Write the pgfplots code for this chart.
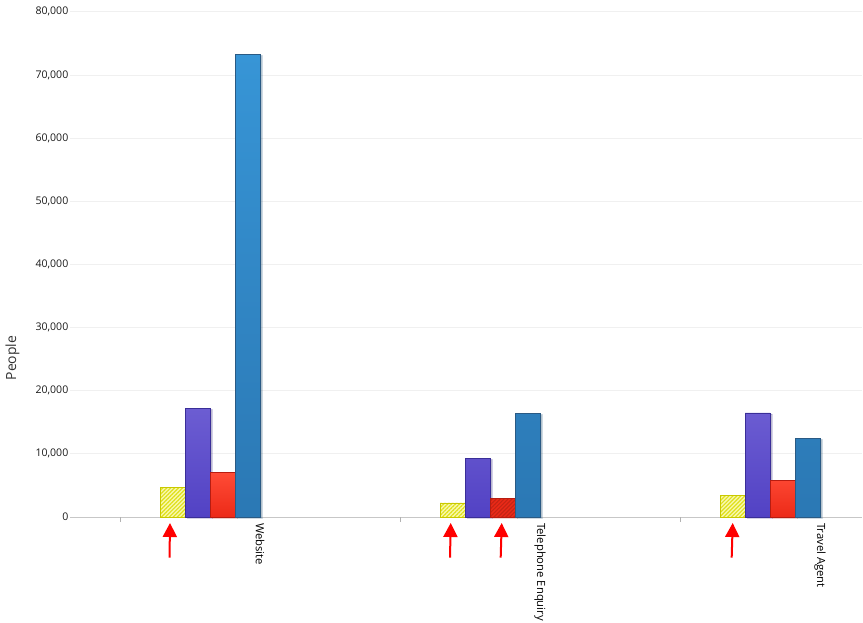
\documentclass[border=0pt]{standalone}
\usepackage{pgfplots}
\pgfplotsset{compat=1.18}
\usetikzlibrary{patterns.meta, arrows.meta, shadows}
\usepackage{fontspec}
\setmainfont{Open Sans}
\definecolor{ylwbg}{HTML}{F8F8B0}
\definecolor{ylwline}{HTML}{E0E01A}
\definecolor{ylwborder}{HTML}{C8C800}
\definecolor{purtop}{HTML}{6C5DD2}
\definecolor{purbot}{HTML}{5242C4}
\definecolor{purborder}{HTML}{3A2E98}
\definecolor{redtop}{HTML}{FF4B36}
\definecolor{redbot}{HTML}{EC2A18}
\definecolor{redborder}{HTML}{B81C10}
\definecolor{redline}{HTML}{C42414}
\definecolor{bluetop}{HTML}{3795D6}
\definecolor{bluebot}{HTML}{2B78B4}
\definecolor{blueborder}{HTML}{2A5A84}
\definecolor{arrowred}{HTML}{FF0000}
\begin{document}
\begin{tikzpicture}
\useasboundingbox (-70bp,-106bp) rectangle (793bp,517bp);
\begin{axis}[
  scale only axis, width=792bp, height=505.3bp,
  xmin=-0.6786, xmax=2.15, ymin=0, ymax=80000,
  clip=false,
  axis x line*=bottom, axis y line*=left,
  x axis line style={-, draw=black!22, line width=0.9pt},
  y axis line style={draw=none},
  ytick={0,10000,...,80000},
  ymajorgrids, grid style={draw=black!6, line width=0.7pt},
  major tick length=0pt,
  scaled y ticks=false,
  /pgf/number format/1000 sep={,},
  /pgf/number format/assume math mode=true,
  yticklabel style={font=\fontsize{10.6}{12}\selectfont, text=black!90, inner xsep=1.5bp},
  xtick={0,1,2},
  xticklabels={Website, Telephone Enquiry, Travel Agent},
  xticklabel style={rotate=-90, anchor=west, font=\fontsize{11.3}{13}\selectfont, text=black, inner xsep=1bp, xshift=5bp},
  extra x ticks={-0.5,0.5,1.5},
  extra x tick labels={},
  extra x tick style={major tick length=5bp, tick align=outside, tick style={draw=black!30, line width=0.9pt}},
  barshadow/.style={drop shadow={shadow xshift=2bp, shadow yshift=-1bp, opacity=0.18, fill=black}},
]
% yellow (hatched)
\addplot[ybar, bar width=0.0893, bar shift=-0.3125, fill=ylwbg, draw=ylwborder, line width=0.8bp,
  postaction={pattern={Lines[angle=45,distance=2.8bp,line width=1.2bp]}, pattern color=ylwline}]
  coordinates {(0,4720) (1,2220) (2,3370)};
% purple
\addplot[ybar, bar width=0.0893, bar shift=-0.2232, barshadow, top color=purtop, bottom color=purbot, draw=purborder, line width=0.8bp]
  coordinates {(0,17140) (1,9230) (2,16470)};
% red
\addplot[ybar, bar width=0.0893, bar shift=-0.1339, barshadow, top color=redtop, bottom color=redbot, draw=redborder, line width=0.8bp]
  coordinates {(0,7000) (2,5800)};
% red hatched (Telephone Enquiry)
\addplot[ybar, bar width=0.0893, bar shift=-0.1339, barshadow, fill=redbot, draw=redborder, line width=0.8bp,
  postaction={pattern={Lines[angle=45,distance=2.8bp,line width=1.2bp]}, pattern color=redline}]
  coordinates {(1,2900)};
% blue
\addplot[ybar, bar width=0.0893, bar shift=-0.0446, barshadow, top color=bluetop, bottom color=bluebot, draw=blueborder, line width=0.8bp]
  coordinates {(0,73200) (1,16350) (2,12400)};
% annotation arrows
\draw[arrowred, line width=2bp, -{Triangle[width=14bp,length=14bp]}] (axis cs:-0.3232,-6444) -- (axis cs:-0.3214,-950);
\draw[arrowred, line width=2bp, -{Triangle[width=14bp,length=14bp]}] (axis cs:0.6786,-6444) -- (axis cs:0.6811,-950);
\draw[arrowred, line width=2bp, -{Triangle[width=14bp,length=14bp]}] (axis cs:0.8596,-6444) -- (axis cs:0.8632,-950);
\draw[arrowred, line width=2bp, -{Triangle[width=14bp,length=14bp]}] (axis cs:1.6846,-6444) -- (axis cs:1.6882,-950);
\node[rotate=90, font=\fontsize{14}{16}\selectfont, text=black!80] at ([xshift=-57.5bp]rel axis cs:0,0.3145) {People};
\end{axis}
\end{tikzpicture}
\end{document}
